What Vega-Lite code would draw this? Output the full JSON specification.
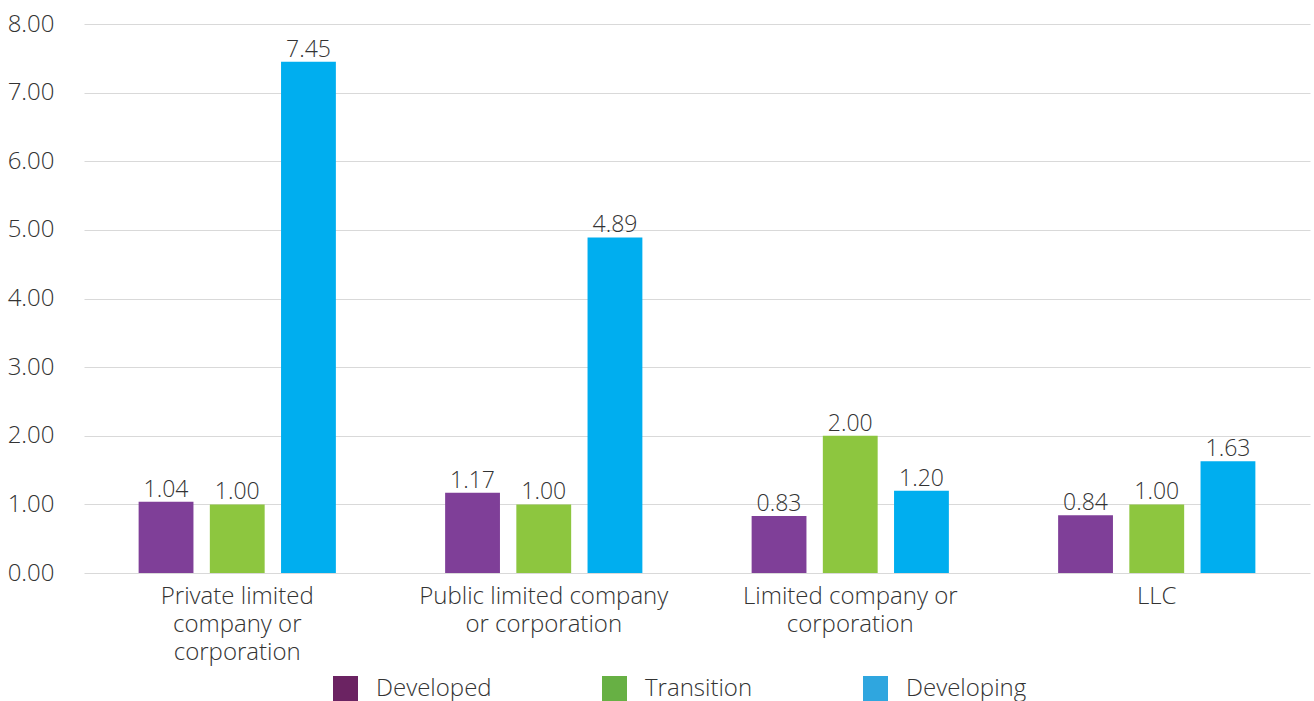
{
  "$schema": "https://vega.github.io/schema/vega-lite/v6.json",
  "width": 1243,
  "height": 549,
  "autosize": {"type": "none"},
  "padding": {"left": 67, "top": 24, "right": 4, "bottom": 128},
  "background": "white",
  "config": {
    "view": {"stroke": null},
    "font": "Open Sans",
    "axis": {"labelFont": "Open Sans", "labelColor": "#333333", "labelFontSize": 24, "labelFontWeight": 300},
    "legend": {"labelFont": "Open Sans", "labelColor": "#333333", "labelFontSize": 24, "labelFontWeight": 300}
  },
  "layer": [
    {
      "data": {"name": "main"},
      "mark": {"type": "bar"},
      "encoding": {
        "x": {
          "field": "type", "type": "nominal", "sort": null, "title": null,
          "scale": {"range": [17, 1243], "paddingInner": 0.31, "paddingOuter": 0.155},
          "axis": {
            "labelAngle": 0, "domain": false, "ticks": false, "labelPadding": 11, "labelLimit": 400,
            "labelLineHeight": 28, "labelBaseline": "top",
            "labelExpr": "datum.value == 'Private limited company or corporation' ? ['Private limited', 'company or', 'corporation'] : datum.value == 'Public limited company or corporation' ? ['Public limited company', 'or corporation'] : datum.value == 'Limited company or corporation' ? ['Limited company or', 'corporation'] : datum.value"
          }
        },
        "xOffset": {
          "field": "group", "type": "nominal", "sort": ["Developed", "Transition", "Developing"],
          "scale": {"paddingInner": 0.23, "paddingOuter": 0.1}
        },
        "y": {
          "field": "value", "type": "quantitative", "title": null,
          "scale": {"domain": [0, 8], "nice": false},
          "axis": {
            "values": [0, 1, 2, 3, 4, 5, 6, 7, 8], "format": ".2f", "domain": false, "ticks": false,
            "labelPadding": 13, "gridColor": "#d9d9d9", "gridWidth": 1.2
          }
        },
        "color": {
          "field": "group", "type": "nominal", "sort": ["Developed", "Transition", "Developing"],
          "scale": {"range": ["#7F3F98", "#8DC63F", "#00AEEF"]},
          "legend": null
        }
      }
    },
    {
      "data": {"name": "main"},
      "mark": {"type": "text", "baseline": "bottom", "dy": 0, "fontSize": 23, "fontWeight": 300, "color": "#333333", "font": "Open Sans"},
      "encoding": {
        "x": {"field": "type", "type": "nominal", "sort": null},
        "xOffset": {"field": "group", "type": "nominal", "sort": ["Developed", "Transition", "Developing"]},
        "y": {"field": "value", "type": "quantitative"},
        "text": {"field": "value", "type": "quantitative", "format": ".2f"}
      }
    },
    {
      "data": {"name": "legend"},
      "mark": {"type": "square", "opacity": 0},
      "encoding": {
        "fill": {
          "field": "series", "type": "nominal",
          "scale": {"domain": ["Developed", "Transition", "Developing"], "range": ["#6B2362", "#67B044", "#2FA6DF"]},
          "legend": {
            "title": null, "orient": "none", "direction": "horizontal",
            "legendX": 266, "legendY": 652,
            "symbolType": "square", "symbolSize": 625, "symbolOpacity": 1, "symbolStrokeWidth": 0,
            "labelOffset": 18, "columnPadding": 110
          }
        }
      }
    }
  ],
  "datasets": {
    "main": [
      {"type": "Private limited company or corporation", "group": "Developed", "value": 1.04},
      {"type": "Private limited company or corporation", "group": "Transition", "value": 1.00},
      {"type": "Private limited company or corporation", "group": "Developing", "value": 7.45},
      {"type": "Public limited company or corporation", "group": "Developed", "value": 1.17},
      {"type": "Public limited company or corporation", "group": "Transition", "value": 1.00},
      {"type": "Public limited company or corporation", "group": "Developing", "value": 4.89},
      {"type": "Limited company or corporation", "group": "Developed", "value": 0.83},
      {"type": "Limited company or corporation", "group": "Transition", "value": 2.00},
      {"type": "Limited company or corporation", "group": "Developing", "value": 1.20},
      {"type": "LLC", "group": "Developed", "value": 0.84},
      {"type": "LLC", "group": "Transition", "value": 1.00},
      {"type": "LLC", "group": "Developing", "value": 1.63}
    ],
    "legend": [
      {"series": "Developed"},
      {"series": "Transition"},
      {"series": "Developing"}
    ]
  }
}
